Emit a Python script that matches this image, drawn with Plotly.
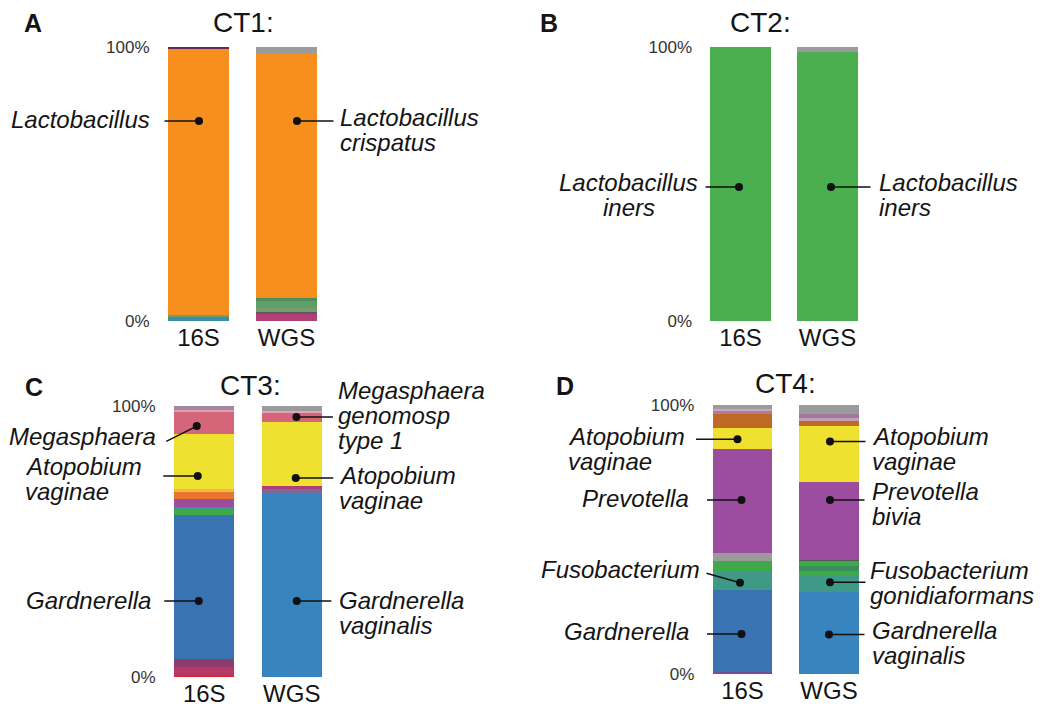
import plotly.graph_objects as go

# ---------------- data (bottom -> top, percent) ----------------
samples = ["16S", "WGS"]

ORANGE = "#F78F1E"
GREEN_L = "#4BAE4F"
GRAY = "#9B9B9B"
YELLOW = "#EFE130"
PURPLE = "#9D4DA0"
PINK = "#D5667A"
BLUE16 = "#3A73B1"
BLUEW = "#3884BF"
TEAL = "#3E9A86"
GREEN = "#3DA94A"
BROWN = "#BE6A24"

ct1_16s_vals = [1.5, 0.7, 97.0, 0.8]
ct1_16s_cols = ["#3A8FA0", "#6C9E72", ORANGE, "#5E2A5C"]
ct1_wgs_vals = [2.5, 0.8, 1.4, 2.5, 1.2, 89.4, 2.2]
ct1_wgs_cols = ["#B24078", "#5A5A5A", "#7A9A70", "#5FA068", "#4E8E5E", ORANGE, GRAY]

ct2_16s_vals = [100.0]
ct2_16s_cols = [GREEN_L]
ct2_wgs_vals = [98.2, 1.8]
ct2_wgs_cols = [GREEN_L, GRAY]

ct3_16s_vals = [0.7, 3.0, 3.0, 53.2, 2.2, 0.7, 3.0, 2.6, 1.0, 20.3, 8.1, 0.7, 1.5]
ct3_16s_cols = ["#E2222A", "#B53A68", "#8E3C6C", BLUE16, GREEN, "#3A9A8A", PURPLE,
                "#E8762C", "#F2B64A", YELLOW, PINK, "#E79BB5", "#9C8A9E"]
ct3_wgs_vals = [68.0, 1.5, 1.0, 23.6, 3.5, 0.7, 1.7]
ct3_wgs_cols = [BLUEW, "#7A6A98", "#B23C78", YELLOW, PINK, "#E9A0BA", GRAY]

ct4_16s_vals = [0.7, 30.5, 7.0, 3.7, 3.0, 38.7, 7.8, 5.2, 1.0, 1.0, 1.4]
ct4_16s_cols = ["#7A4A9A", BLUE16, TEAL, GREEN, GRAY, PURPLE, YELLOW, BROWN,
                "#B57A9C", "#C6A8C2", GRAY]
ct4_wgs_vals = [30.5, 6.0, 1.9, 1.8, 1.9, 0.4, 29.0, 20.6, 2.0, 1.2, 1.2, 3.5]
ct4_wgs_cols = [BLUEW, TEAL, GREEN, "#3B8E5A", GREEN, "#555555", PURPLE, YELLOW,
                BROWN, "#C0A0B8", "#A07898", GRAY]

panel_titles = ["CT1:", "CT2:", "CT3:", "CT4:"]
panel_letters = ["A", "B", "C", "D"]
tick_vals = [0, 100]
tick_text = ["0%", "100%"]

# callouts: (panel, sample index, value %, text lines)
callouts = [
    (1, 0, 73.0, ["Lactobacillus"]),
    (1, 1, 73.0, ["Lactobacillus", "crispatus"]),
    (2, 0, 48.9, ["Lactobacillus", "iners"]),
    (2, 1, 48.9, ["Lactobacillus", "iners"]),
    (3, 0, 92.6, ["Megasphaera"]),
    (3, 0, 74.2, ["Atopobium", "vaginae"]),
    (3, 0, 28.0, ["Gardnerella"]),
    (3, 1, 95.9, ["Megasphaera", "genomosp", "type 1"]),
    (3, 1, 73.4, ["Atopobium", "vaginae"]),
    (3, 1, 28.0, ["Gardnerella", "vaginalis"]),
    (4, 0, 87.3, ["Atopobium", "vaginae"]),
    (4, 0, 64.7, ["Prevotella"]),
    (4, 0, 33.9, ["Fusobacterium"]),
    (4, 0, 14.9, ["Gardnerella"]),
    (4, 1, 86.4, ["Atopobium", "vaginae"]),
    (4, 1, 64.7, ["Prevotella", "bivia"]),
    (4, 1, 34.1, ["Fusobacterium", "gonidiaformans"]),
    (4, 1, 14.7, ["Gardnerella", "vaginalis"]),
]
# layout of callouts (pixels): dot dx from bar centre, tail dx, tail dy,
# text dx, first-line dy, anchor
callout_layout = [
    (0.5, -36, 0, -47, -1, "right"),
    (10.5, 38, 0, 41, -3, "left"),
    (-1.5, -35, 0, -41, -5, "center"),
    (3.5, 41, 0, 46, -5, "left"),
    (-7.5, -32, 16, -39, 10, "right"),
    (-6.5, -36, 0, -175, -9, "left"),
    (-5.5, -36, 0, -46, -1, "right"),
    (4.7, 38, 0, 40, -27, "left"),
    (4.0, 39, 0, 41, -3, "left"),
    (5.0, 36, 0, 40, -1, "left"),
    (-5.0, -43, 0, -172, -3, "left"),
    (-1.0, -36, 0, -51, -1, "right"),
    (-2.5, -35, -10, -38, -13, "right"),
    (-1.0, -36, 0, -51, -2, "right"),
    (1.0, 37, 0, 40, -5, "left"),
    (1.0, 36, 0, 40, -8, "left"),
    (1.0, 37, 0, 38, -12, "left"),
    (0.0, 37, 0, 41, -4, "left"),
]

# ---------------- layout geometry ----------------
W, H = 1050, 711
FONT = "Liberation Sans, Arial, Helvetica, sans-serif"
LABEL_SIZE = 24
LINE_SP = 25
TXT = "#141414"

# pixel boxes of plot areas: (x0, x1, y_top, y_bottom)
boxes = [
    (154.5, 330.5, 47, 321),
    (697.0, 871.0, 47, 321),
    (160.5, 335.5, 406, 677),
    (699.25, 872.25, 405, 674),
]
title_pos = [(243, 23), (760, 23), (250, 385), (785, 384)]
letter_pos = [(33, 23), (549, 23), (34, 387), (565, 386)]

panels_data = [
    [(ct1_16s_vals, ct1_16s_cols), (ct1_wgs_vals, ct1_wgs_cols)],
    [(ct2_16s_vals, ct2_16s_cols), (ct2_wgs_vals, ct2_wgs_cols)],
    [(ct3_16s_vals, ct3_16s_cols), (ct3_wgs_vals, ct3_wgs_cols)],
    [(ct4_16s_vals, ct4_16s_cols), (ct4_wgs_vals, ct4_wgs_cols)],
]

# Arial advance widths (per 1000 em) for centring text lines
AW = {'a': 556, 'b': 556, 'c': 500, 'd': 556, 'e': 556, 'f': 278, 'g': 556, 'h': 556,
      'i': 222, 'l': 222, 'm': 833, 'n': 556, 'o': 556, 'p': 556, 'r': 333, 's': 500,
      't': 278, 'u': 556, 'v': 500, 'y': 500, ' ': 278, '1': 556, 'A': 667, 'F': 611,
      'G': 778, 'L': 556, 'M': 833, 'P': 667}


def text_width(s, size):
    return sum(AW.get(ch, 556) for ch in s) * size / 1000.0


fig = go.Figure()
layout_axes = {}
annotations = []

for p in range(4):
    sfx = "" if p == 0 else str(p + 1)
    xa, ya = "x" + sfx, "y" + sfx
    x0, x1, yt, yb = boxes[p]
    for si, (vals, cols) in enumerate(panels_data[p]):
        for v, c in zip(vals, cols):
            fig.add_trace(go.Bar(x=[si], y=[v], marker=dict(color=c, line=dict(width=0)),
                                 width=0.69, xaxis=xa, yaxis=ya, showlegend=False,
                                 hovertemplate=samples[si] + ": %{y}%<extra></extra>"))
    layout_axes["xaxis" + sfx] = dict(
        domain=[x0 / W, x1 / W], range=[-0.5, 1.5], anchor=ya,
        tickvals=[0, 1], ticktext=samples, showgrid=False, zeroline=False,
        showline=False, ticks="", tickfont=dict(size=24, family=FONT, color=TXT),
        fixedrange=True, automargin=False)
    layout_axes["yaxis" + sfx] = dict(
        domain=[1 - yb / H, 1 - yt / H], range=[0, 100], anchor=xa,
        tickvals=tick_vals, ticktext=tick_text, showgrid=False, zeroline=False,
        showline=False, ticks="", tickfont=dict(size=17, family=FONT, color="#333333"),
        ticklabelstandoff=4, fixedrange=True, automargin=False)
    tx, ty = title_pos[p]
    annotations.append(dict(x=tx / W, y=1 - ty / H, xref="paper", yref="paper",
                            text=panel_titles[p], showarrow=False, xanchor="center",
                            yanchor="middle", font=dict(size=28, family=FONT, color=TXT)))
    lx, ly = letter_pos[p]
    annotations.append(dict(x=lx / W, y=1 - ly / H, xref="paper", yref="paper",
                            text="<b>" + panel_letters[p] + "</b>", showarrow=False,
                            xanchor="center", yanchor="middle",
                            font=dict(size=25, family=FONT, color=TXT)))

# callouts
dot_x = {1: [], 2: [], 3: [], 4: []}
dot_y = {1: [], 2: [], 3: [], 4: []}
for (p, si, val, lines), (ddx, tdx, tdy, xdx, xdy, anchor) in zip(callouts, callout_layout):
    sfx = "" if p == 1 else str(p)
    xa, ya = "x" + sfx, "y" + sfx
    x0, x1, _, _ = boxes[p - 1]
    px_per_unit = (x1 - x0) / 2.0
    xd = si + ddx / px_per_unit
    dot_x[p].append(xd)
    dot_y[p].append(val)
    annotations.append(dict(x=xd, y=val, xref=xa, yref=ya, ax=tdx, ay=tdy,
                            axref="pixel", ayref="pixel", text="", showarrow=True,
                            arrowhead=0, arrowwidth=1.5, arrowcolor="#111111",
                            standoff=0))
    if anchor == "center":
        cx = xdx - text_width(lines[0], LABEL_SIZE) / 2.0
    for i, line in enumerate(lines):
        xs = cx if anchor == "center" else xdx
        annotations.append(dict(x=xd, y=val, xref=xa, yref=ya, text="<i>" + line + "</i>",
                                showarrow=False, xanchor=anchor, yanchor="middle",
                                xshift=xs, yshift=-(xdy + i * LINE_SP),
                                font=dict(size=LABEL_SIZE, family=FONT, color=TXT)))

for p in range(1, 5):
    sfx = "" if p == 1 else str(p)
    fig.add_trace(go.Scatter(x=dot_x[p], y=dot_y[p], mode="markers",
                             marker=dict(color="#111111", size=8),
                             xaxis="x" + sfx, yaxis="y" + sfx, showlegend=False,
                             cliponaxis=False, hoverinfo="skip"))

fig.update_layout(width=W, height=H,
                  margin=dict(l=0, r=0, t=0, b=0, pad=0, autoexpand=False),
                  paper_bgcolor="white", plot_bgcolor="white", barmode="stack",
                  annotations=annotations, showlegend=False, **layout_axes)

fig.write_html("out.html", config={"displayModeBar": False},
               post_script="document.body.style.margin='0px';"
                           "document.body.style.padding='0px';"
                           "document.body.style.overflow='hidden';")
